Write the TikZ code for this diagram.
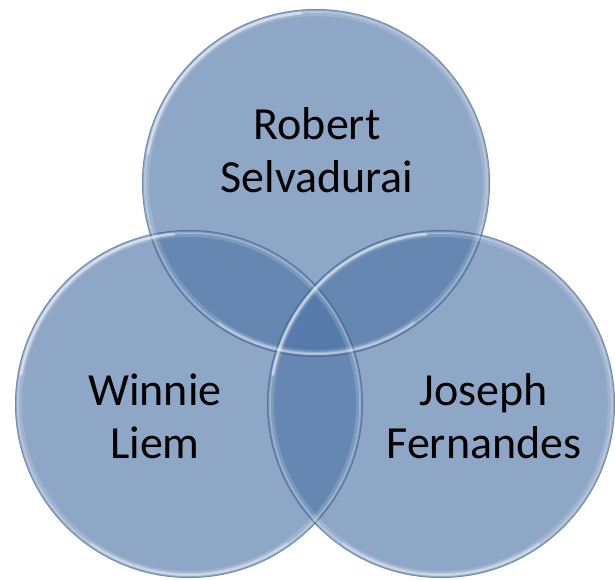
\documentclass[tikz,border=0pt]{standalone}
\usepackage{fontspec}
\setmainfont{Carlito}
\definecolor{venn}{RGB}{78,117,167}
\begin{document}
\begin{tikzpicture}[x=1pt,y=-1pt,
  venncircle/.style={circle, minimum size=348pt, inner sep=0pt, fill=venn, fill opacity=0.64, draw=none},
  rim/.style={draw=white, draw opacity=0.3, line width=2pt},
  rimsoft/.style={draw=white, draw opacity=0.15, line width=4pt},
  rimbright/.style={draw=white, draw opacity=0.45, line width=3pt, line cap=round},
  edge/.style={draw=venn!70!black, draw opacity=0.35, line width=0.8pt},
  vennlabel/.style={font=\fontsize{46}{53}\selectfont, align=center, text=black}]
\useasboundingbox (0,0) rectangle (615,580);
\node[venncircle] (top) at (316,183) {};
\node[venncircle] (left) at (189,404) {};
\node[venncircle] (right) at (441,404) {};
\foreach \c in {top,left,right} {
  \draw[rimsoft] (\c.center) circle (169pt);
  \draw[rim] (\c.center) circle (171.2pt);
  \draw[edge] (\c.center) circle (173.6pt);
  \draw[rimbright] ([shift={(95:170.5pt)}]\c.center) arc[start angle=95, end angle=170, radius=170.5pt];
  \draw[rimbright, draw opacity=0.3] ([shift={(235:170.5pt)}]\c.center) arc[start angle=235, end angle=305, radius=170.5pt];
}
\node[vennlabel] (t1) at (317,150) {Robert\\Selvadurai};
\node[vennlabel] (t2) at (155,416) {Winnie\\Liem};
\node[vennlabel] (t3) at (484,416) {Joseph\\Fernandes};
\end{tikzpicture}
\end{document}
